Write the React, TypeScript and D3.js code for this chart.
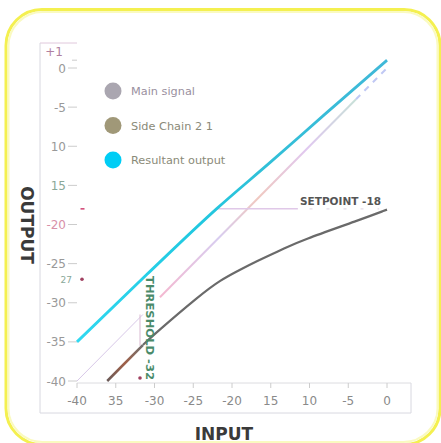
import React from "react";
import * as d3 from "d3";

const inputTicks = [-40, -35, -30, -25, -20, -15, -10, -5, 0];
const inputTickLabels = ["-40", "35", "-30", "-25", "-20", "15", "10", "-5", "0"];
const outputTicks = [1, 0, -5, -10, -15, -20, -25, -30, -35, -40];
const outputTickLabels = ["+1", "0", "-5", "10", "15", "-20", "-25", "-30", "-35", "-40"];
const outputTickColors = ["#b080a0", "#999", "#999", "#999", "#8aa898", "#d890a8", "#999", "#999", "#999", "#999"];

// Resultant output (cyan)
const resultIn = [-40, -31, -22, -15, -8, 0];
const resultOut = [-35, -26.4, -18, -12, -5.9, 1];

// Main signal (1:1), drawn in three pieces
const mainLowIn = [-40, -31.5];
const mainMidIn = [-29.3, -4];
const mainTopIn = [-4, 0];

// Side chain / compressed curve (dark)
const sideIn = [-36.1, -33.8, -31.5, -29.9, -24.1, -21.5, -19, -17.3, -12.9, -11.2, -3.5, 0];
const sideOut = [-40, -37.7, -35.4, -33.9, -29.0, -27.1, -25.8, -24.9, -22.9, -22.1, -19.4, -18.1];
const sideSplit = 3; // first points in brown gradient

const legendLabels = ["Main signal", "Side Chain 2 1", "Resultant output"];
const legendColors = ["#aaa6b0", "#a09878", "#00cdf5"];

const thresholdIn = -32;
const setpointOut = -18;
const markerOut = -27;

export default function App() {
  const x = d3.scaleLinear().domain([-40, 0]).range([77, 387]);
  const y = d3.scaleLinear().domain([0, -40]).range([68, 381]);
  const line = d3.line<[number, number]>().x(d => x(d[0])).y(d => y(d[1])).curve(d3.curveBasis);
  const lineR = d3.line<[number, number]>().x(d => x(d[0])).y(d => y(d[1])).curve(d3.curveMonotoneX);
  const straight = d3.line<[number, number]>().x(d => x(d[0])).y(d => y(d[1]));

  const resultPts = resultIn.map((v, i) => [v, resultOut[i]] as [number, number]);
  const sidePts = sideIn.map((v, i) => [v, sideOut[i]] as [number, number]);
  const sideA = sidePts.slice(0, sideSplit);
  const sideB = sidePts.slice(sideSplit - 1);

  const font = "DejaVu Sans, sans-serif";

  return (
    <svg width={441} height={443} style={{ position: "absolute", left: 0, top: 0, background: "#fff" }}>
      <defs>
        <linearGradient id="yaxisG" x1="0" y1="0" x2="0" y2="1">
          <stop offset="0" stopColor="#d8c0e0" />
          <stop offset="0.3" stopColor="#d8d8e8" />
          <stop offset="0.5" stopColor="#f4c0d4" />
          <stop offset="0.75" stopColor="#e0d0e0" />
          <stop offset="1" stopColor="#d8d8e0" />
        </linearGradient>
        <linearGradient id="pinkG" x1="0" y1="1" x2="1" y2="0">
          <stop offset="0" stopColor="#f4b8d0" />
          <stop offset="0.3" stopColor="#d8cdf0" />
          <stop offset="0.5" stopColor="#f0c8c0" />
          <stop offset="0.75" stopColor="#e0c8f0" />
          <stop offset="1" stopColor="#c8e0d8" />
        </linearGradient>
        <linearGradient id="brownG" x1="0" y1="1" x2="1" y2="0">
          <stop offset="0" stopColor="#6a5a58" />
          <stop offset="0.5" stopColor="#a06048" />
          <stop offset="1" stopColor="#707070" />
        </linearGradient>
        <linearGradient id="cyanG" x1="0" y1="1" x2="1" y2="0">
          <stop offset="0" stopColor="#30d8f0" />
          <stop offset="0.4" stopColor="#20c8e0" />
          <stop offset="0.6" stopColor="#30c0d8" />
          <stop offset="1" stopColor="#40b8d8" />
        </linearGradient>
        <linearGradient id="threshG" x1="0" y1="0" x2="0" y2="1" gradientUnits="userSpaceOnUse">
          <stop offset="0" stopColor="#4a8a6a" />
          <stop offset="1" stopColor="#555" />
        </linearGradient>
      </defs>

      {/* yellow rounded border */}
      <rect x={6} y={9.5} width={434} height={435} rx={36} fill="none" stroke="#f4f050" strokeWidth={3} />
      <rect x={8.5} y={12} width={429} height={430} rx={34} fill="none" stroke="#fafac0" strokeWidth={2} />

      {/* axis strips */}
      <g fill="none" strokeWidth={1}>
        <path d="M40,43 H77" stroke="#e0c8dc" />
        <path d="M40,43 V413 H411 V383" stroke="#d8d8e0" />
        <path d="M77,383 H411" stroke="#dcdce0" />
        <path d="M77,43 V383" stroke="url(#yaxisG)" />
      </g>

      {/* y ticks */}
      {outputTicks.map((t, i) => (
        <g key={"yt" + i}>
          <line x1={i === 0 ? 72 : 68} x2={77} y1={y(t)} y2={y(t)} stroke="#ccc" />
          <text x={i === 0 ? 63 : 66} y={y(t) + (i === 0 ? -4 : 4.5)} textAnchor="end" fontFamily={font} fontSize={12} fill={outputTickColors[i]}>
            {outputTickLabels[i]}
          </text>
        </g>
      ))}

      {/* x ticks */}
      {inputTicks.map((t, i) => (
        <g key={"xt" + i}>
          <line x1={x(t)} x2={x(t)} y1={383} y2={388} stroke="#ccc" />
          <text x={x(t)} y={405} textAnchor="middle" fontFamily={font} fontSize={12} fill="#8a8a8a">
            {inputTickLabels[i]}
          </text>
        </g>
      ))}

      {/* markers */}
      <text x={72} y={y(markerOut) + 3.5} textAnchor="end" fontFamily={font} fontSize={9} fill="#88a898">27</text>
      <circle cx={82} cy={y(markerOut)} r={1.8} fill="#a04060" />
      <line x1={80.5} x2={84.5} y1={y(setpointOut)} y2={y(setpointOut)} stroke="#d04070" strokeWidth={1.5} />
      <circle cx={x(thresholdIn) + 1} cy={378} r={1.8} fill="#a04060" />

      {/* legend */}
      {legendLabels.map((l, i) => (
        <g key={"lg" + i}>
          <circle cx={113} cy={91 + i * 34.5} r={8.5} fill={legendColors[i]} />
          <text x={131} y={95 + i * 34.5} fontFamily={font} fontSize={11.3} fill={i === 0 ? "#9a90a0" : "#8a8a78"}>{l}</text>
        </g>
      ))}

      {/* main signal 1:1 */}
      <path d={straight(mainLowIn.map(v => [v, v] as [number, number])) || ""} stroke="#d8c8e8" strokeWidth={1} fill="none" />
      <line x1={x(thresholdIn) + 1} x2={x(thresholdIn) + 1} y1={y(-31.5)} y2={y(-35.5)} stroke="#d8b8d0" strokeWidth={1} />
      <path d={straight(mainMidIn.map(v => [v, v] as [number, number])) || ""} stroke="url(#pinkG)" strokeWidth={2} fill="none" />
      <path d={straight(mainTopIn.map(v => [v, v] as [number, number])) || ""} stroke="#c0c8f4" strokeWidth={2} strokeDasharray="6,6" fill="none" />

      {/* setpoint line */}
      <line x1={x(-22)} x2={x(-11.5)} y1={y(setpointOut)} y2={y(setpointOut)} stroke="#e0c8e8" strokeWidth={1.5} />
      <line x1={x(-10)} x2={x(-1)} y1={y(setpointOut)} y2={y(setpointOut)} stroke="#e4dce8" strokeWidth={1.2} strokeDasharray="3,14" />

      {/* side chain curve */}
      <path d={straight(sideA) || ""} stroke="url(#brownG)" strokeWidth={2.5} fill="none" />
      <path d={line(sideB) || ""} stroke="#6a6a6a" strokeWidth={2.2} fill="none" />

      {/* resultant */}
      <path d={lineR(resultPts) || ""} stroke="url(#cyanG)" strokeWidth={2.8} fill="none" />

      {/* annotations */}
      <text x={300} y={205} fontFamily={font} fontSize={10.5} fontWeight="bold" fill="#555">SETPOINT -18</text>
      <text transform={`translate(${x(thresholdIn) + 7},276) rotate(90)`} fontFamily={font} fontSize={11} fontWeight="bold" fill="url(#threshG)" textLength={104} lengthAdjust="spacingAndGlyphs">THRESHOLD -32</text>

      {/* axis titles */}
      <text x={224} y={440} textAnchor="middle" fontFamily={font} fontSize={17} fontWeight="bold" fill="#3a3a3a">INPUT</text>
      <text transform="translate(21,225) rotate(90)" textAnchor="middle" fontFamily={font} fontSize={17} fontWeight="bold" fill="#3a3a3a">OUTPUT</text>
    </svg>
  );
}
